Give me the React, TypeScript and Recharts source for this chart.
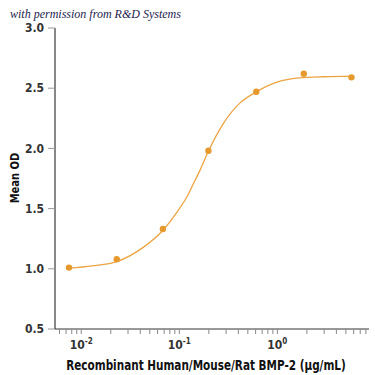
import { ComposedChart, Line, Scatter, XAxis, YAxis } from 'recharts';

// measured concentrations (ug/mL) and mean OD
const doseX = [0.0075, 0.023, 0.068, 0.198, 0.61, 1.86, 5.7];
const doseY = [1.01, 1.08, 1.33, 1.98, 2.47, 2.62, 2.59];

// fitted curve
const fitX = [0.0075, 0.0129, 0.0231, 0.0432, 0.0682, 0.0948, 0.12, 0.14, 0.165, 0.199, 0.283, 0.419, 0.611, 0.993, 1.65, 3.0, 5.7];
const fitY = [1.005, 1.025, 1.06, 1.18, 1.32, 1.47, 1.6, 1.71, 1.83, 1.98, 2.21, 2.38, 2.47, 2.55, 2.585, 2.595, 2.6];

const yTicks = [0.5, 1.0, 1.5, 2.0, 2.5, 3.0];
const xTicks = [
  0.006, 0.007, 0.008, 0.009, 0.01,
  0.02, 0.03, 0.04, 0.05, 0.06, 0.07, 0.08, 0.09, 0.1,
  0.2, 0.3, 0.4, 0.5, 0.6, 0.7, 0.8, 0.9, 1,
  2, 3, 4, 5, 6, 7, 8,
];

const points = doseX.map((x, i) => ({ x, y: doseY[i] }));
const curve = fitX.map((x, i) => ({ x, y: fitY[i] }));

const tickFont = "'DejaVu Sans Condensed', 'DejaVu Sans', sans-serif";

function XTick(props: any) {
  const { x, y, payload } = props;
  const lg = Math.log10(payload.value);
  const e = Math.round(lg);
  if (Math.abs(lg - e) > 1e-6) return null;
  return (
    <text x={x} y={y} dy={13} textAnchor="middle" fontFamily={tickFont} fontWeight="bold" fontSize={12} fill="#333">
      10
      <tspan dy={-5} fontSize={8}>{e}</tspan>
    </text>
  );
}

export default function App() {
  return (
    <div style={{ position: 'absolute', left: 0, top: 0, width: 375, height: 375, background: '#fff', overflow: 'hidden' }}>
      <div
        style={{
          position: 'absolute', left: 10, top: 7, fontFamily: "'Liberation Serif', serif", fontStyle: 'italic',
          fontSize: 12, color: '#1d1d4f', whiteSpace: 'nowrap',
        }}
      >
        with permission from R&amp;D Systems
      </div>
      <ComposedChart width={375} height={375} margin={{ top: 28, right: 6, bottom: 16, left: 0 }}>
        <XAxis
          dataKey="x"
          type="number"
          scale="log"
          domain={[0.0054, 8.6]}
          allowDataOverflow
          ticks={xTicks}
          interval={0}
          height={30}
          tickSize={5}
          tickMargin={2}
          tick={<XTick />}
          axisLine={{ stroke: '#333' }}
          tickLine={{ stroke: '#888' }}
        />
        <YAxis
          type="number"
          domain={[0.5, 3]}
          ticks={yTicks}
          width={55}
          tickSize={7}
          tickMargin={4}
          tickFormatter={(v: number) => v.toFixed(1)}
          tick={{ fontFamily: tickFont, fontWeight: 'bold', fontSize: 12, fill: '#333' }}
          axisLine={{ stroke: '#111' }}
          tickLine={{ stroke: '#999' }}
        />
        <Line
          data={curve}
          dataKey="y"
          type="monotone"
          stroke="#eba443"
          strokeWidth={1.3}
          dot={false}
          isAnimationActive={false}
        />
        <Scatter data={points} dataKey="y" fill="#e69a2e" isAnimationActive={false} shape={(p: any) => <circle cx={p.cx} cy={p.cy} r={3.2} fill="#e69a2e" />} />
      </ComposedChart>
      <div
        style={{
          position: 'absolute', left: 14, top: 178, transform: 'translate(-50%, -50%) rotate(-90deg) scaleX(0.85)',
          fontFamily: tickFont, fontWeight: 'bold', fontSize: 13, color: '#111', whiteSpace: 'nowrap',
        }}
      >
        Mean OD
      </div>
      <div
        style={{
          position: 'absolute', left: 206, top: 365, transform: 'translate(-50%, -50%) scaleX(0.83)',
          fontFamily: tickFont, fontWeight: 'bold', fontSize: 14, color: '#111', whiteSpace: 'nowrap',
        }}
      >
        Recombinant Human/Mouse/Rat BMP-2 (μg/mL)
      </div>
    </div>
  );
}
